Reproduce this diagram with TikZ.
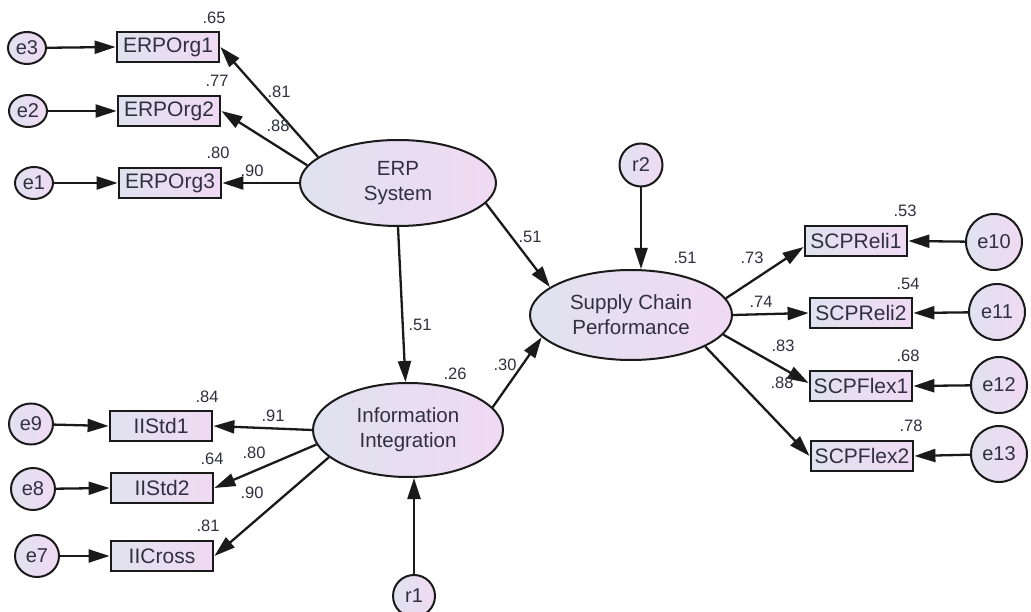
\documentclass[tikz,border=0pt]{standalone}
\usepackage{fontspec}
\setmainfont{Liberation Sans}
\usetikzlibrary{arrows.meta,shapes.geometric,calc}
\definecolor{fillL}{HTML}{E0E2EF}
\definecolor{fillR}{HTML}{F0DAF3}
\definecolor{txt}{HTML}{30303F}
\definecolor{ln}{HTML}{1A1A1A}
\begin{document}
\begin{tikzpicture}[x=1pt,y=-1pt,
  latent/.style={ellipse, draw=ln, line width=2pt, left color=fillL, right color=fillR,
    inner sep=0pt, text=txt, font=\fontsize{20.5}{25}\selectfont, align=center},
  obs/.style={rectangle, draw=ln, line width=2.8pt, left color=fillL, right color=fillR,
    minimum width=102pt, minimum height=30pt, inner sep=0pt, text=txt,
    font=\fontsize{21}{24}\selectfont},
  err/.style={ellipse, draw=ln, line width=2pt, left color=fillL, right color=fillR,
    inner sep=0pt, text=txt, font=\fontsize{20}{22}\selectfont},
  arr/.style={draw=ln, line width=2.3pt, -{Triangle[length=21pt,width=13pt]}},
  num/.style={text=txt, font=\fontsize{16.5}{18}\selectfont, inner sep=0pt}
]
\fill[white] (0,0) rectangle (1031,612);
\useasboundingbox (0,0) rectangle (1031,612);

% latent variables
\node[latent, minimum width=196pt, minimum height=86pt] (erp) at (398,183) {ERP\\System};
\node[latent, minimum width=190pt, minimum height=94pt] (ii) at (408,430) {Information\\Integration};
\node[latent, minimum width=202pt, minimum height=90pt] (scp) at (631,315) {Supply Chain\\Performance};

% observed variables
\node[obs] (o1) at (168,47) {ERPOrg1};
\node[obs] (o2) at (169,111) {ERPOrg2};
\node[obs] (o3) at (170,183) {ERPOrg3};
\node[obs] (i1) at (161,426) {IIStd1};
\node[obs] (i2) at (162,488) {IIStd2};
\node[obs] (i3) at (162,556) {IICross};
\node[obs] (s1) at (856,241) {SCPReli1};
\node[obs] (s2) at (861,313) {SCPReli2};
\node[obs] (s3) at (861,386) {SCPFlex1};
\node[obs] (s4) at (862,456) {SCPFlex2};

% error terms
\node[err, minimum width=38pt, minimum height=32pt] (e3) at (27,48) {e3};
\node[err, minimum width=38pt, minimum height=32pt] (e2) at (28,111) {e2};
\node[err, minimum width=38pt, minimum height=32pt] (e1) at (34,183) {e1};
\node[err, minimum width=44pt, minimum height=41pt] (e9) at (31,424) {e9};
\node[err, minimum width=44pt, minimum height=42pt] (e8) at (33,489) {e8};
\node[err, minimum width=44pt, minimum height=42pt] (e7) at (37,556) {e7};
\node[err, minimum width=56pt, minimum height=56pt] (e10) at (994,242) {e10};
\node[err, minimum width=56pt, minimum height=56pt] (e11) at (997,312) {e11};
\node[err, minimum width=56pt, minimum height=56pt] (e12) at (999,385) {e12};
\node[err, minimum width=56pt, minimum height=56pt] (e13) at (999,454) {e13};
\node[err, minimum width=42pt, minimum height=42pt] (r1) at (414,596) {r1};
\node[err, minimum width=43pt, minimum height=43pt] (r2) at (641,165) {r2};

% error arrows
\draw[arr] (e3) -- (o1.west);
\draw[arr] (e2) -- (o2.west);
\draw[arr] (e1) -- (o3.west);
\draw[arr] (e9) -- (i1.west);
\draw[arr] (e8) -- (i2.west);
\draw[arr] (e7) -- (i3.west);
\draw[arr] (e10) -- (s1.east);
\draw[arr] (e11) -- (s2.east);
\draw[arr] (e12) -- (s3.east);
\draw[arr] (e13) -- (s4.east);
\draw[arr] (r1) -- (r1 |- ii.south);
\draw[arr] (r2) -- (r2 |- scp.north);

% loadings
\draw[arr] (erp.162) -- (o1.east);
\draw[arr] (erp.169) -- (o2.east);
\draw[arr] (erp.west) -- (o3.east);
\draw[arr] (ii.west) -- (i1.east);
\draw[arr] (ii.189) -- (i2.east);
\draw[arr] (ii.199) -- (i3.east);
\draw[arr] (scp.10) -- ([yshift=-6pt]s1.west);
\draw[arr] (scp.east) -- (s2.west);
\draw[arr] (scp.-12) -- ([yshift=3pt]s3.west);
\draw[arr] (scp.-23) -- (s4.west);

% structural paths
\draw[arr] (erp.south) -- (ii.93);
\draw[arr] (erp.-13) -- (scp.161);
\draw[arr] (ii.15) -- (scp.194);

% labels
\node[num] (n1) at (214,18) {.65};
\node[num] (n2) at (217,81) {.77};
\node[num] (n3) at (218,153) {.80};
\node[num] (n4) at (279,92) {.81};
\node[num] (n5) at (278,126) {.88};
\node[num] (n6) at (252,171) {.90};
\node[num] (n7) at (530,237) {.51};
\node[num] (n8) at (420,325) {.51};
\node[num] (n9) at (685,258) {.51};
\node[num] (n10) at (455,374) {.26};
\node[num] (n11) at (505,365) {.30};
\node[num] (n12) at (752,258) {.73};
\node[num] (n13) at (761,302) {.74};
\node[num] (n14) at (783,346) {.83};
\node[num] (n15) at (782,383) {.88};
\node[num] (n16) at (905,211) {.53};
\node[num] (n17) at (908,284) {.54};
\node[num] (n18) at (908,356) {.68};
\node[num] (n19) at (911,426) {.78};
\node[num] (n20) at (207,397) {.84};
\node[num] (n21) at (273,416) {.91};
\node[num] (n22) at (212,459) {.64};
\node[num] (n23) at (254,453) {.80};
\node[num] (n24) at (252,493) {.90};
\node[num] (n25) at (208,526) {.81};
\end{tikzpicture}
\end{document}
